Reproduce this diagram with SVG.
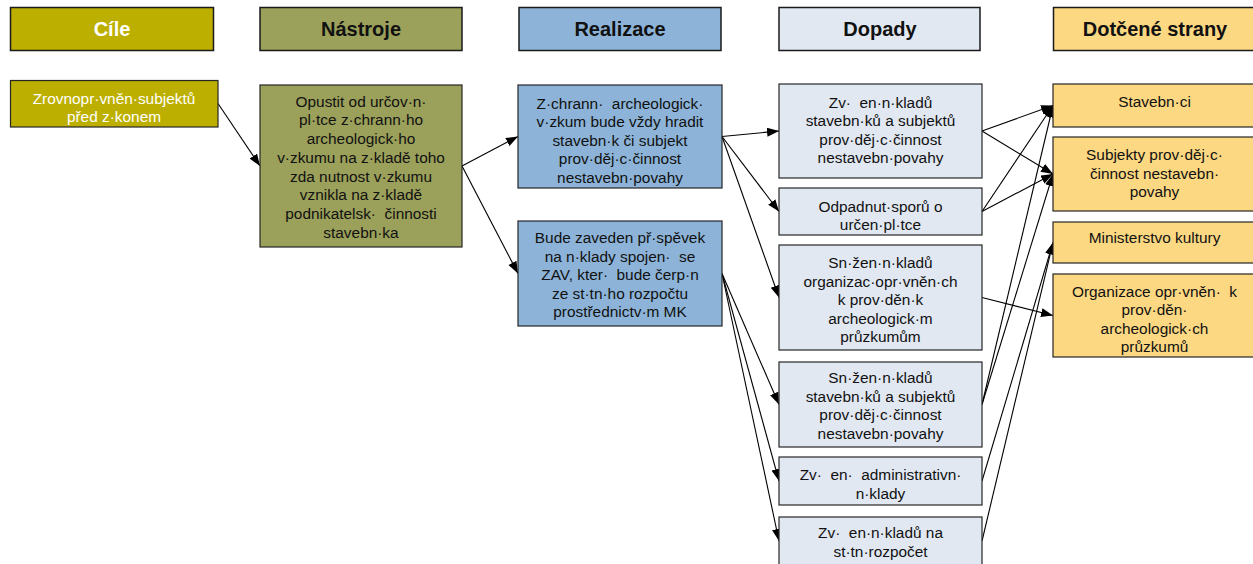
<svg xmlns="http://www.w3.org/2000/svg" width="1253" height="564" viewBox="0 0 1253 564">
<style>
.box{stroke:#262626;stroke-width:1.2}
.hdr{stroke:#1a1a1a;stroke-width:1.5}
.c1{fill:#BDAF00}
.c2{fill:#9BA05A}
.c3{fill:#8DB4D8}
.c4{fill:#E1E8F2}
.c5{fill:#FDD882}
text{font-family:"Liberation Sans",Arial,sans-serif;text-anchor:middle;fill:#111;white-space:pre}
.h{font-size:20px;font-weight:bold}
.t{font-size:15.4px}
.w{fill:#ffffff}
.ln{stroke:#000;stroke-width:1.1;fill:none;marker-end:url(#ah)}
</style>
<defs>
<marker id="ah" markerUnits="userSpaceOnUse" markerWidth="13" markerHeight="10" refX="12" refY="4.5" orient="auto">
<path d="M0,0 L12,4.5 L0,9 z" fill="#000"/>
</marker>
</defs>
<rect width="1253" height="564" fill="#ffffff"/>

<g id="header-cile"><rect class="hdr c1" x="10.5" y="7.5" width="203" height="43"/><text class="h w" x="112" y="36">Cíle</text></g>
<g id="header-nastroje"><rect class="hdr c2" x="260" y="7.5" width="202" height="43"/><text class="h" x="361" y="36">Nástroje</text></g>
<g id="header-realizace"><rect class="hdr c3" x="519" y="7.5" width="202" height="43"/><text class="h" x="620" y="36">Realizace</text></g>
<g id="header-dopady"><rect class="hdr c4" x="779" y="7.5" width="201" height="43"/><text class="h" x="880" y="36">Dopady</text></g>
<g id="header-dotcene"><rect class="hdr c5" x="1053.5" y="7.5" width="203" height="43"/><text class="h" x="1155" y="36">Dotčené strany</text></g>

<g id="connectors">
<line class="ln" x1="218" y1="103.5" x2="260" y2="166"/>
<line class="ln" x1="462" y1="166" x2="518" y2="136.5"/>
<line class="ln" x1="462" y1="166" x2="518" y2="273.5"/>
<line class="ln" x1="722" y1="136.5" x2="779" y2="131"/>
<line class="ln" x1="722" y1="136.5" x2="779" y2="211.5"/>
<line class="ln" x1="722" y1="136.5" x2="779" y2="297.5"/>
<line class="ln" x1="722" y1="273.5" x2="779" y2="404.5"/>
<line class="ln" x1="722" y1="273.5" x2="779" y2="481"/>
<line class="ln" x1="722" y1="273.5" x2="779" y2="541"/>
<line class="ln" x1="982" y1="131" x2="1053" y2="105.5"/>
<line class="ln" x1="982" y1="131" x2="1053" y2="174"/>
<line class="ln" x1="982" y1="211.5" x2="1053" y2="105.5"/>
<line class="ln" x1="982" y1="211.5" x2="1053" y2="174"/>
<line class="ln" x1="982" y1="297.5" x2="1053" y2="315.5"/>
<line class="ln" x1="982" y1="404.5" x2="1053" y2="105.5"/>
<line class="ln" x1="982" y1="404.5" x2="1053" y2="174"/>
<line class="ln" x1="982" y1="481" x2="1053" y2="242.5"/>
<line class="ln" x1="982" y1="541" x2="1053" y2="242.5"/>
</g>

<g id="cil-1"><rect class="box c1" x="10.5" y="80.5" width="207.5" height="46.5"/>
<text class="t w" x="114" y="103.5">Zrovnopr·vněn·subjektů</text>
<text class="t w" x="114" y="122">před z·konem</text></g>

<g id="nastroj-1"><rect class="box c2" x="260" y="85" width="202" height="162"/>
<text class="t" x="361" y="106.7">Opustit od určov·n·</text>
<text class="t" x="361" y="125.4">pl·tce z·chrann·ho</text>
<text class="t" x="361" y="144.1">archeologick·ho</text>
<text class="t" x="361" y="162.8">v·zkumu na z·kladě toho</text>
<text class="t" x="361" y="181.5">zda nutnost v·zkumu</text>
<text class="t" x="361" y="200.2">vznikla na z·kladě</text>
<text class="t" x="361" y="218.9">podnikatelsk·&#160; činnosti</text>
<text class="t" x="361" y="237.6">stavebn·ka</text></g>

<g id="realizace-1"><rect class="box c3" x="518" y="85" width="204" height="103"/>
<text class="t" x="620" y="108.5">Z·chrann·&#160; archeologick·</text>
<text class="t" x="620" y="127">v·zkum bude vždy hradit</text>
<text class="t" x="620" y="145.5">stavebn·k či subjekt</text>
<text class="t" x="620" y="164">prov·děj·c·činnost</text>
<text class="t" x="620" y="182.5">nestavebn·povahy</text></g>

<g id="realizace-2"><rect class="box c3" x="518" y="221" width="204" height="105"/>
<text class="t" x="620" y="243.3">Bude zaveden př·spěvek</text>
<text class="t" x="620" y="261.8">na n·klady spojen·&#160; se</text>
<text class="t" x="620" y="280.3">ZAV, kter·&#160; bude čerp·n</text>
<text class="t" x="620" y="298.8">ze st·tn·ho rozpočtu</text>
<text class="t" x="620" y="317.3">prostřednictv·m MK</text></g>

<g id="dopad-1"><rect class="box c4" x="779" y="84" width="203" height="94"/>
<text class="t" x="880.5" y="107.5">Zv·&#160; en·n·kladů</text>
<text class="t" x="880.5" y="126">stavebn·ků a subjektů</text>
<text class="t" x="880.5" y="144.5">prov·děj·c·činnost</text>
<text class="t" x="880.5" y="163">nestavebn·povahy</text></g>

<g id="dopad-2"><rect class="box c4" x="779" y="188" width="203" height="47"/>
<text class="t" x="880.5" y="211.7">Odpadnut·sporů o</text>
<text class="t" x="880.5" y="230.2">určen·pl·tce</text></g>

<g id="dopad-3"><rect class="box c4" x="779" y="245" width="203" height="105"/>
<text class="t" x="880.5" y="268.3">Sn·žen·n·kladů</text>
<text class="t" x="880.5" y="286.8">organizac·opr·vněn·ch</text>
<text class="t" x="880.5" y="305.3">k prov·děn·k</text>
<text class="t" x="880.5" y="323.8">archeologick·m</text>
<text class="t" x="880.5" y="342.3">průzkumům</text></g>

<g id="dopad-4"><rect class="box c4" x="779" y="362" width="203" height="85"/>
<text class="t" x="880.5" y="383.3">Sn·žen·n·kladů</text>
<text class="t" x="880.5" y="401.8">stavebn·ků a subjektů</text>
<text class="t" x="880.5" y="420.3">prov·děj·c·činnost</text>
<text class="t" x="880.5" y="438.8">nestavebn·povahy</text></g>

<g id="dopad-5"><rect class="box c4" x="779" y="457" width="203" height="48"/>
<text class="t" x="880.5" y="480">Zv·&#160; en·&#160; administrativn·</text>
<text class="t" x="880.5" y="498.5">n·klady</text></g>

<g id="dopad-6"><rect class="box c4" x="779" y="517" width="203" height="50"/>
<text class="t" x="880.5" y="538.3">Zv·&#160; en·n·kladů na</text>
<text class="t" x="880.5" y="556.8">st·tn·rozpočet</text></g>

<g id="strana-1"><rect class="box c5" x="1053" y="84" width="203" height="43"/>
<text class="t" x="1154.5" y="107">Stavebn·ci</text></g>

<g id="strana-2"><rect class="box c5" x="1053" y="137" width="203" height="74"/>
<text class="t" x="1154.5" y="160">Subjekty prov·děj·c·</text>
<text class="t" x="1154.5" y="178.5">činnost nestavebn·</text>
<text class="t" x="1154.5" y="197">povahy</text></g>

<g id="strana-3"><rect class="box c5" x="1053" y="222" width="203" height="41"/>
<text class="t" x="1154.5" y="243.3">Ministerstvo kultury</text></g>

<g id="strana-4"><rect class="box c5" x="1053" y="274" width="203" height="83"/>
<text class="t" x="1154.5" y="296.7">Organizace opr·vněn·&#160; k</text>
<text class="t" x="1154.5" y="315.2">prov·děn·</text>
<text class="t" x="1154.5" y="333.7">archeologick·ch</text>
<text class="t" x="1154.5" y="352.2">průzkumů</text></g>
</svg>
